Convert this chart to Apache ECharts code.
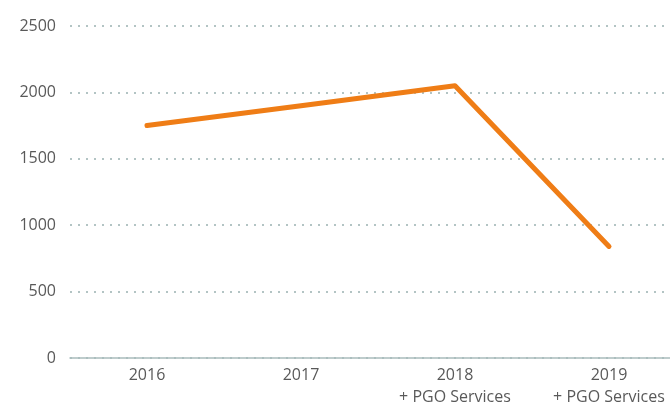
<!DOCTYPE html>
<html>
<head>
<meta charset="utf-8">
<script src="https://cdn.jsdelivr.net/npm/echarts@6/dist/echarts.min.js"></script>
<style>
  html, body { margin: 0; padding: 0; background: #ffffff; }
  #chart { width: 670px; height: 403px; }
</style>
</head>
<body>
<div id="chart"></div>
<script>
// Yearly totals; the last two years include PGO Services
const categories = ['2016', '2017', '2018\n+ PGO Services', '2019\n+ PGO Services'];
const totals = [1750, 1900, 2050, 840];
const yTicks = { min: 0, max: 2500, interval: 500 };

const chart = echarts.init(document.getElementById('chart'), null, { renderer: 'canvas' });

chart.setOption({
  animation: false,
  backgroundColor: '#ffffff',
  grid: {
    left: 70, right: -16, top: 26, bottom: 45,
    containLabel: false,
    outerBoundsMode: 'none'
  },
  xAxis: {
    type: 'category',
    data: categories,
    boundaryGap: true,
    axisLine: { show: true, lineStyle: { color: '#a9bcbc', width: 1.5 } },
    axisTick: { show: false },
    axisLabel: {
      color: '#595959',
      fontFamily: 'Open Sans',
      fontSize: 16,
      lineHeight: 22,
      margin: 6,
      interval: 0
    },
    splitLine: { show: false }
  },
  yAxis: {
    type: 'value',
    min: yTicks.min,
    max: yTicks.max,
    interval: yTicks.interval,
    axisLine: { show: false },
    axisTick: { show: false },
    axisLabel: {
      color: '#595959',
      fontFamily: 'Open Sans',
      fontSize: 16,
      margin: 14,
      formatter: (v) => String(v)
    },
    splitLine: {
      show: true,
      lineStyle: { color: '#b3c4c4', width: 2, type: [2, 6] }
    }
  },
  series: [{
    type: 'line',
    data: totals,
    symbol: 'none',
    lineStyle: { color: '#ef7d16', width: 5, cap: 'round', join: 'round' },
    z: 3
  }]
});
</script>
</body>
</html>
